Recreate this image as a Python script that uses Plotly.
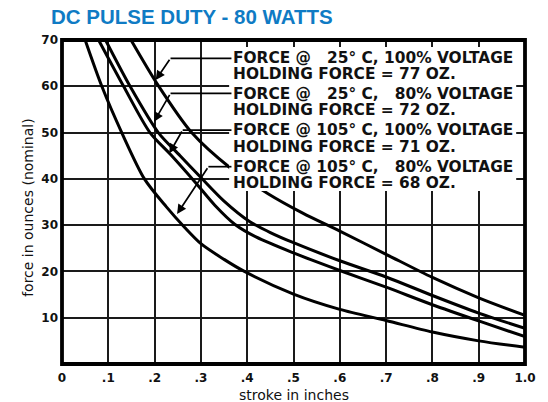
import plotly.graph_objects as go

# ---- data ----
stroke_a = [0.050, 0.086, 0.129, 0.178, 0.225, 0.265, 0.30, 0.35, 0.394, 0.50, 0.60, 0.70, 0.80, 0.90, 1.00]
force_a = [70, 60, 50, 40, 34, 29.5, 26, 22.6, 20, 15.1, 11.8, 9.4, 6.9, 5.0, 3.6]      # 105°C, 80%

stroke_b = [0.079, 0.133, 0.190, 0.235, 0.29, 0.33, 0.373, 0.42, 0.50, 0.60, 0.70, 0.80, 0.90, 1.00]
force_b = [70, 60, 50, 45.2, 39, 34.3, 30.2, 27.4, 24.0, 20.2, 16.6, 12.8, 9.3, 5.9]    # 105°C, 100%

stroke_c = [0.094, 0.147, 0.208, 0.255, 0.30, 0.35, 0.405, 0.45, 0.50, 0.60, 0.70, 0.80, 0.90, 1.00]
force_c = [70, 60, 50, 45, 40.3, 35.2, 30.8, 28.4, 26.2, 22.3, 18.8, 14.8, 11.0, 7.7]   # 25°C, 80%

stroke_d = [0.149, 0.207, 0.28, 0.363, 0.445, 0.52, 0.60, 0.70, 0.80, 0.90, 1.00]
force_d = [70, 60.3, 50, 42.4, 36.8, 32.6, 28.7, 23.7, 18.7, 14.3, 10.5]                # 25°C, 100%

x_tickvals = [0, 0.1, 0.2, 0.3, 0.4, 0.5, 0.6, 0.7, 0.8, 0.9, 1.0]
x_ticktext = ["0", ".1", ".2", ".3", ".4", ".5", ".6", ".7", ".8", ".9", "1.0"]
y_tickvals = [10, 20, 30, 40, 50, 60, 70]
y_ticktext = ["10", "20", "30", "40", "50", "60", "70"]

FS = "\u2007"
label_lines = [
    ["FORCE @ " + FS + "25° C, 100% VOLTAGE", "HOLDING FORCE = 77 OZ."],
    ["FORCE @ " + FS + "25° C, " + FS + "80% VOLTAGE", "HOLDING FORCE = 72 OZ."],
    ["FORCE @ 105° C, 100% VOLTAGE", "HOLDING FORCE = 71 OZ."],
    ["FORCE @ 105° C, " + FS + "80% VOLTAGE", "HOLDING FORCE = 68 OZ."],
]

title_text = "DC PULSE DUTY - 80 WATTS"
x_title = "stroke in inches"
y_title = "force in ounces (nominal)"

# ---- figure ----
fig = go.Figure()
for xs, ys in [(stroke_a, force_a), (stroke_b, force_b), (stroke_c, force_c), (stroke_d, force_d)]:
    fig.add_trace(go.Scatter(x=xs, y=ys, mode="lines",
                             line=dict(color="black", width=3, shape="spline", smoothing=0.8),
                             showlegend=False, hoverinfo="skip"))

tick_font = dict(family="DejaVu Sans", size=12, color="#111", weight="bold")
fig.update_layout(
    width=548, height=402,
    margin=dict(l=62, r=18, t=40, b=38),
    paper_bgcolor="white", plot_bgcolor="white",
    xaxis=dict(range=[0, 1.0], tickvals=x_tickvals, ticktext=x_ticktext,
               showgrid=True, gridcolor="#1a1a1a", gridwidth=1.5, zeroline=False,
               showline=False, ticks="", tickfont=tick_font, ticklabelstandoff=5),
    yaxis=dict(range=[0, 70], tickvals=y_tickvals, ticktext=y_ticktext,
               showgrid=True, gridcolor="#1a1a1a", gridwidth=1.5, zeroline=False,
               showline=False, ticks="", tickfont=tick_font, ticklabelstandoff=3),
)

shapes = []
# white box behind the labels
shapes.append(dict(type="rect", xref="x", yref="y", x0=0.361, x1=0.981, y0=37.4, y1=68.5,
                   fillcolor="white", line=dict(width=0), layer="above"))
# frame
shapes.append(dict(type="rect", xref="paper", yref="paper", x0=0, x1=1, y0=0, y1=1,
                   line=dict(color="black", width=3.8), layer="above"))

# leader lines: (horizontal y, left x, tip x, tip y)
leaders = [(66.05, 0.2344, 0.2024, 61.36),
           (58.48, 0.2344, 0.1987, 52.35),
           (50.55, 0.2607, 0.2318, 45.52),
           (42.63, 0.3162, 0.2485, 32.41)]
annotations = []
for hy, lx, tx, ty in leaders:
    shapes.append(dict(type="line", xref="x", yref="y", x0=lx, x1=0.366, y0=hy, y1=hy,
                       line=dict(color="black", width=1.7), layer="above"))
    annotations.append(dict(xref="x", yref="y", x=tx, y=ty, ax=lx, ay=hy, axref="x", ayref="y",
                            text="", showarrow=True, arrowhead=2, arrowsize=1.1,
                            arrowwidth=1.7, arrowcolor="black", standoff=0))

line_y = [(66.11, 62.76), (58.33, 54.88), (50.45, 46.99), (42.56, 39.10)]
label_font = dict(family="DejaVu Sans", size=15.4, color="#111", weight="bold")
for (l1, l2), (y1, y2) in zip(label_lines, line_y):
    annotations.append(dict(xref="x", yref="y", x=0.3654, y=y1, xanchor="left", yanchor="middle",
                            text=l1, showarrow=False, font=label_font))
    annotations.append(dict(xref="x", yref="y", x=0.3654, y=y2, xanchor="left", yanchor="middle",
                            text=l2, showarrow=False, font=label_font))

annotations.append(dict(xref="paper", yref="paper", x=0.28, y=1.0735, xanchor="center", yanchor="middle",
                        text="<b>" + title_text + "</b>", showarrow=False,
                        font=dict(family="Liberation Sans", size=20.5, color="#0f7bc4")))
annotations.append(dict(xref="paper", yref="paper", x=-0.0737, y=0.4846, xanchor="center", yanchor="middle",
                        text=y_title, textangle=-90, showarrow=False,
                        font=dict(family="DejaVu Sans", size=14, color="#111")))
annotations.append(dict(xref="paper", yref="paper", x=0.5, y=-0.0957, xanchor="center", yanchor="middle",
                        text=x_title, showarrow=False,
                        font=dict(family="DejaVu Sans", size=14, color="#111")))

fig.update_layout(shapes=shapes, annotations=annotations)
fig.write_html("out.html", config={"displayModeBar": False},
               post_script="document.body.style.margin='0px';")
